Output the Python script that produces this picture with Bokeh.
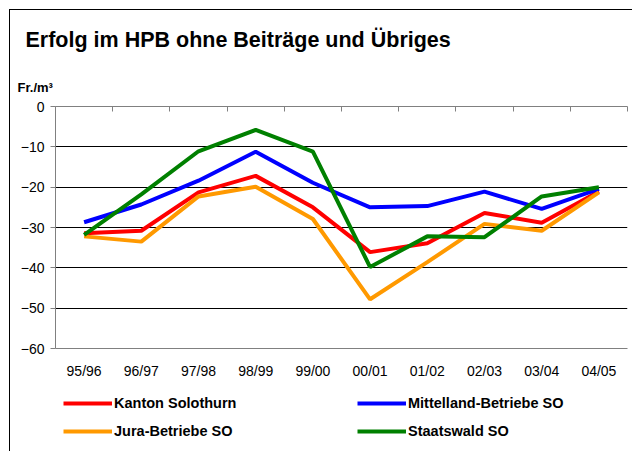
from bokeh.plotting import figure
from bokeh.layouts import column
from bokeh.models import (Range1d, LinearAxis, FixedTicker, Label, Legend, LegendItem, Grid,
                          CustomJSTickFormatter)
from bokeh.embed import file_html
from bokeh.resources import INLINE

periods = ["95/96", "96/97", "97/98", "98/99", "99/00", "00/01", "01/02", "02/03", "03/04", "04/05"]
kanton = [-31.4, -30.8, -21.3, -17.2, -25.0, -36.1, -33.9, -26.4, -28.8, -21.1]
mittelland = [-28.7, -24.3, -18.4, -11.2, -18.9, -25.0, -24.7, -21.1, -25.4, -20.4]
jura = [-32.2, -33.5, -22.3, -19.9, -27.9, -47.8, -38.6, -29.1, -30.8, -21.3]
staatswald = [-31.8, -21.8, -11.1, -5.8, -11.2, -39.8, -32.2, -32.4, -22.3, -20.0]
series_names = ["Kanton Solothurn", "Mittelland-Betriebe SO", "Jura-Betriebe SO", "Staatswald SO"]
y_ticks = [0, -10, -20, -30, -40, -50, -60]
grid_ticks = [-10, -20, -30, -40, -50]

FONT = "Liberation Sans"
COLORS = ["#FF0000", "#0000FF", "#FF9900", "#008000"]
SERIES = [kanton, mittelland, jura, staatswald]
W = 622
xs = [i + 0.5 for i in range(len(periods))]

def blank_fig(h):
    f = figure(width=W, height=h, output_backend="svg", toolbar_location=None,
               x_range=Range1d(0, W), y_range=Range1d(0, h), min_border=0,
               x_axis_location=None, y_axis_location=None, title=None, frame_align=False)
    f.outline_line_color = None
    for g in f.grid:
        g.visible = False
    return f

# --- title area ---
TH = 88
ft = blank_fig(TH)
ft.add_layout(Label(x=15, y=TH - 29, text="Erfolg im HPB ohne Beiträge und Übriges",
                    text_font=FONT, text_font_size="21.5px", text_font_style="bold",
                    text_color="black", text_baseline="alphabetic"))
ft.add_layout(Label(x=7, y=TH - 77, text="Fr./m³", text_font=FONT, text_font_size="13px",
                    text_font_style="bold", text_color="black", text_baseline="alphabetic"))

# --- chart ---
p = figure(width=W, height=287, output_backend="svg", toolbar_location=None,
           x_range=Range1d(0, len(periods)), y_range=Range1d(-60, 0),
           min_border_left=45, min_border_right=5, min_border_top=8, min_border_bottom=37,
           x_axis_location=None, y_axis_location=None, title=None, frame_align=False)
p.outline_line_color = None
for g in p.grid:
    g.visible = False

yax = LinearAxis(ticker=FixedTicker(ticks=y_ticks), axis_line_color="#808080",
                 major_tick_line_color="#808080", major_tick_out=5, major_tick_in=0,
                 minor_tick_line_color=None, major_label_text_font=FONT,
                 major_label_text_font_size="14px", major_label_standoff=6,
                 major_label_text_color="black")
p.add_layout(yax, "left")

tax = LinearAxis(ticker=FixedTicker(ticks=list(range(len(periods) + 1))), axis_line_color="#808080",
                 major_tick_line_color="#808080", major_tick_in=5, major_tick_out=0,
                 minor_tick_line_color=None, formatter=CustomJSTickFormatter(code="return ''"),
                 major_label_standoff=0)
p.add_layout(tax, "above")

bax = LinearAxis(ticker=FixedTicker(ticks=xs),
                 major_label_overrides={x: lab for x, lab in zip(xs, periods)},
                 axis_line_color="#808080", major_tick_line_color=None, minor_tick_line_color=None,
                 major_label_text_font=FONT, major_label_text_font_size="14px",
                 major_label_standoff=8, major_label_text_color="black")
p.add_layout(bax, "below")

p.add_layout(Grid(dimension=1, ticker=FixedTicker(ticks=grid_ticks), grid_line_color="black",
                  grid_line_width=1))

for vals, col in zip(SERIES, COLORS):
    p.line(xs, vals, line_color=col, line_width=4)

# --- legend area (swatch renderers lie outside this panel's visible range) ---
LH = 66
fl = blank_fig(LH)
sw = [fl.line(xs, vals, line_color=c, line_width=4) for vals, c in zip(SERIES, COLORS)]

def mk_legend(idx, loc):
    items = [LegendItem(label=series_names[i], renderers=[sw[i]]) for i in idx]
    return Legend(items=items, location=loc, glyph_width=49, glyph_height=20, label_height=20,
                  label_standoff=2, spacing=8, padding=0, margin=0, border_line_color=None,
                  background_fill_alpha=0, label_text_font=FONT, label_text_font_style="bold",
                  label_text_color="black", label_text_font_size="14.5px")

fl.add_layout(mk_legend([0, 2], (53, 10)))
fl.add_layout(mk_legend([1, 3], (347, 10)))

layout = column(ft, p, fl, spacing=0,
                styles={"margin": "9px 0 0 9px", "border-left": "1px solid black",
                        "border-top": "1px solid black"})

open("out.html", "w").write(file_html(layout, INLINE))
